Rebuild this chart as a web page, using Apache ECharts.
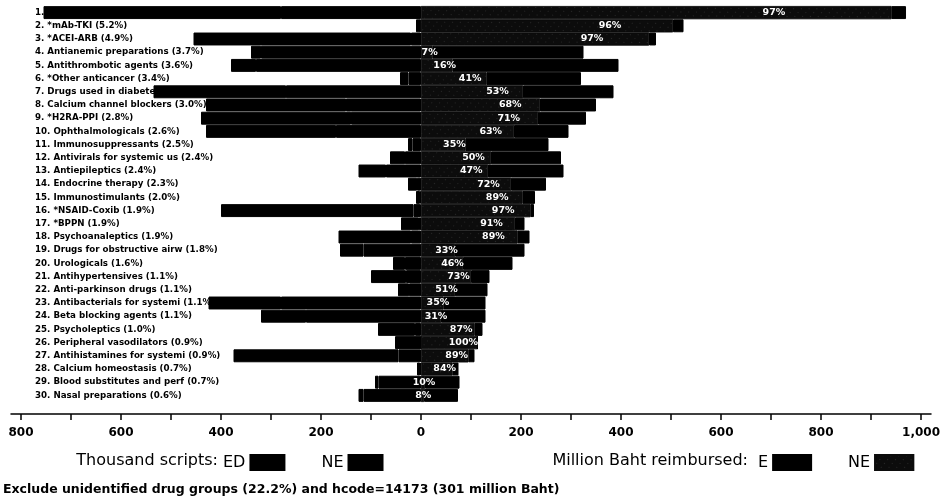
<!DOCTYPE html>
<html>
<head>
<meta charset="utf-8">
<script src="https://cdn.jsdelivr.net/npm/echarts@6/dist/echarts.min.js"></script>
<style>
  html, body { margin: 0; padding: 0; background: #fff; }
  #chart { width: 943px; height: 501px; }
</style>
</head>
<body>
<div id="chart"></div>
<script>
  var FONT = '"DejaVu Sans", "Liberation Sans", sans-serif';

  // top 30 drug groups (share of reimbursement in brackets)
  var categories = [
    '1. Lipid modifying agents (7.6%)',
    '2. *mAb-TKI (5.2%)',
    '3. *ACEI-ARB (4.9%)',
    '4. Antianemic preparations (3.7%)',
    '5. Antithrombotic agents (3.6%)',
    '6. *Other anticancer (3.4%)',
    '7. Drugs used in diabetes (3.2%)',
    '8. Calcium channel blockers (3.0%)',
    '9. *H2RA-PPI (2.8%)',
    '10. Ophthalmologicals (2.6%)',
    '11. Immunosuppressants (2.5%)',
    '12. Antivirals for systemic us (2.4%)',
    '13. Antiepileptics (2.4%)',
    '14. Endocrine therapy (2.3%)',
    '15. Immunostimulants (2.0%)',
    '16. *NSAID-Coxib (1.9%)',
    '17. *BPPN (1.9%)',
    '18. Psychoanaleptics (1.9%)',
    '19. Drugs for obstructive airw (1.8%)',
    '20. Urologicals (1.6%)',
    '21. Antihypertensives (1.1%)',
    '22. Anti-parkinson drugs (1.1%)',
    '23. Antibacterials for systemi (1.1%)',
    '24. Beta blocking agents (1.1%)',
    '25. Psycholeptics (1.0%)',
    '26. Peripheral vasodilators (0.9%)',
    '27. Antihistamines for systemi (0.9%)',
    '28. Calcium homeostasis (0.7%)',
    '29. Blood substitutes and perf (0.7%)',
    '30. Nasal preparations (0.6%)'
  ];

  // thousand scripts
  var scriptsED = [280, 1, 20, 320, 330, 25, 270, 150, 140, 170, 17, 32, 70, 8, 2,
                   15, 4, 20, 115, 32, 30, 24, 280, 230, 12, 0, 45, 2, 85, 115];
  var scriptsNE = [475, 9, 435, 20, 50, 17, 265, 280, 300, 260, 9, 30, 55, 18, 8,
                   385, 36, 145, 47, 24, 70, 22, 145, 90, 74, 52, 330, 6, 7, 10];

  // million baht reimbursed
  var bahtNE = [941, 504, 456, 23, 63, 131, 204, 238, 234, 186, 89, 140, 134, 180, 203,
                219, 188, 193, 68, 84, 100, 68, 45, 40, 107, 113, 95, 63, 8, 6];
  var bahtE = [29, 21, 14, 302, 332, 189, 181, 112, 96, 109, 166, 140, 151, 70, 25,
               7, 19, 24, 139, 99, 37, 65, 84, 89, 16, 0, 12, 12, 69, 68];
  var nePercent = [97, 96, 97, 7, 16, 41, 53, 68, 71, 63, 35, 50, 47, 72, 89,
                   97, 91, 89, 33, 46, 73, 51, 35, 31, 87, 100, 89, 84, 10, 8];

  var labelTicks = [-800, -600, -400, -200, 0, 200, 400, 600, 800, 1000];
  var majorTicks = [-800, -700, -600, -500, -400, -300, -200, -100, 0,
                    100, 200, 300, 400, 500, 600, 700, 800, 900, 1000];
  var minorTicks = [];
  for (var t = -820; t <= 1020; t += 20) minorTicks.push(t);

  var chart = echarts.init(document.getElementById('chart'));

  var black = { color: '#000', borderColor: '#000', borderWidth: 1 };

  var legendBase = {
    orient: 'horizontal',
    align: 'right',
    icon: 'rect',
    itemHeight: 15,
    padding: 0,
    selectedMode: false,
    formatter: function (n) { return n.split(' ')[1]; },
    textStyle: { fontSize: 16, color: '#000', fontFamily: FONT }
  };

  var option = {
    animation: false,
    backgroundColor: '#fff',
    textStyle: { fontFamily: FONT, color: '#000' },
    grid: { left: 11, right: 7, top: 6, bottom: 99 },
    xAxis: [
      {
        type: 'value',
        min: -820,
        max: 1020,
        offset: 12,
        axisLine: { show: true, lineStyle: { color: '#000', width: 1.5 } },
        axisTick: { show: true, customValues: majorTicks, length: 6, lineStyle: { color: '#000', width: 1.5 } },
        axisLabel: {
          customValues: labelTicks,
          margin: 13,
          fontSize: 12,
          fontWeight: 'bold',
          color: '#000',
          fontFamily: FONT,
          formatter: function (v) { return Math.abs(v).toLocaleString('en-US'); }
        },
        splitLine: { show: false }
      },
      {
        type: 'value',
        min: -820,
        max: 1020,
        offset: 12,
        axisLine: { show: false },
        axisTick: { show: true, customValues: minorTicks, length: 3, lineStyle: { color: '#000', width: 1 } },
        axisLabel: { show: false },
        splitLine: { show: false }
      }
    ],
    yAxis: {
      type: 'category',
      inverse: true,
      data: categories,
      axisLine: { show: false, onZero: false },
      axisTick: { show: false },
      axisLabel: {
        inside: true,
        interval: 0,
        align: 'left',
        margin: 24,
        fontSize: 8.7,
        fontWeight: 'bold',
        color: '#000',
        fontFamily: FONT
      }
    },
    legend: [
      Object.assign({}, legendBase, {
        data: ['scripts ED', 'scripts NE'],
        left: 223,
        top: 454,
        itemWidth: 34,
        itemGap: 36
      }),
      Object.assign({}, legendBase, {
        data: ['baht E', 'baht NE'],
        left: 758,
        top: 454,
        itemWidth: 38,
        itemGap: 36
      })
    ],
    graphic: [
      { type: 'text', right: 725, top: 453, style: { text: 'Thousand scripts:', font: '16px ' + FONT, fill: '#000' } },
      { type: 'text', right: 195, top: 453, style: { text: 'Million Baht reimbursed:', font: '16px ' + FONT, fill: '#000' } },
      { type: 'text', left: 3, top: 483, style: { text: 'Exclude unidentified drug groups (22.2%) and hcode=14173 (301 million Baht)', font: 'bold 12.5px ' + FONT, fill: '#000' } }
    ],
    series: [
      {
        name: 'scripts ED', type: 'bar', stack: 'all', barCategoryGap: '2%',
        data: scriptsED.map(function (v) { return -v; }),
        itemStyle: black
      },
      {
        name: 'scripts NE', type: 'bar', stack: 'all',
        data: scriptsNE.map(function (v) { return -v; }),
        itemStyle: black
      },
      {
        name: 'baht NE', type: 'bar', stack: 'all',
        data: bahtNE,
        itemStyle: {
          color: '#0c0c0c',
          borderColor: '#0c0c0c',
          borderWidth: 0.6,
          decal: { symbol: 'rect', symbolSize: 0.5, color: 'rgba(255,255,255,0.45)', dashArrayX: [1, 5], dashArrayY: [1, 4], rotation: 0.7 }
        },
        label: {
          show: true,
          position: ['75%', '50%'],
          align: 'center',
          verticalAlign: 'middle',
          color: '#fff',
          fontSize: 9.5,
          fontWeight: 'bold',
          fontFamily: FONT,
          formatter: function (p) { return nePercent[p.dataIndex] + '%'; }
        }
      },
      {
        name: 'baht E', type: 'bar', stack: 'all',
        data: bahtE,
        itemStyle: black
      }
    ]
  };

  chart.setOption(option);
</script>
</body>
</html>
